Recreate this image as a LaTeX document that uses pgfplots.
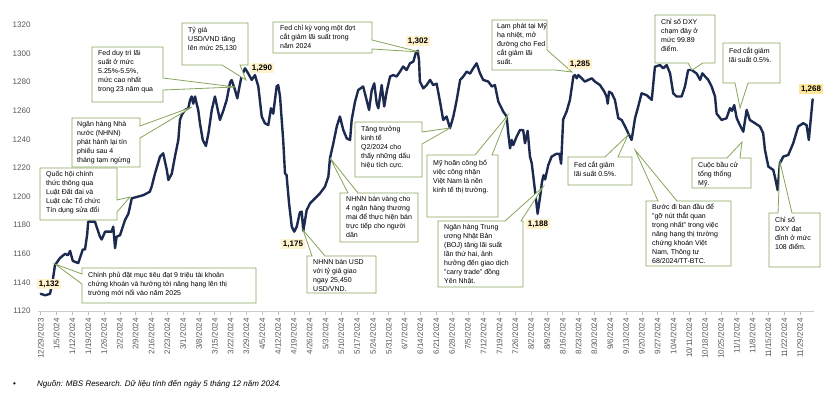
\documentclass[border=0pt]{standalone}
\usepackage{pgfplots}
\pgfplotsset{compat=1.18}
\usepackage{fontspec}
\setmainfont{Liberation Sans}
\definecolor{navy}{HTML}{1B2A4E}
\definecolor{cgreen}{HTML}{86A55A}
\definecolor{lblfill}{HTML}{FFF2CC}
\definecolor{lblfill2}{HTML}{FFE699}
\definecolor{tickgray}{HTML}{595959}
\newcommand{\ct}{\fontsize{7}{9}\selectfont}
\begin{document}
\begin{tikzpicture}[x=1pt,y=1pt]
\useasboundingbox (0,0) rectangle (840,394);
\begin{axis}[
  at={(38pt,83pt)}, anchor=south west, scale only axis,
  width=776pt, height=286pt,
  xmin=-1.2, xmax=342.2, ymin=1120, ymax=1320,
  axis x line*=bottom, axis y line*=left,
  y axis line style={draw=none},
  x axis line style={draw=gray!40, line width=0.8pt},
  ytick={1120,1140,...,1320},
  ytick style={draw=none},
  /pgf/number format/assume math mode=true,
  /pgf/number format/set thousands separator={},
  yticklabel style={font=\fontsize{8}{9}\selectfont, text=tickgray},
  xtick={0,7,...,336},
  xticklabels={12/29/2023,1/5/2024,1/12/2024,1/19/2024,1/26/2024,2/2/2024,2/9/2024,2/16/2024,2/23/2024,3/1/2024,3/8/2024,3/15/2024,3/22/2024,3/29/2024,4/5/2024,4/12/2024,4/19/2024,4/26/2024,5/3/2024,5/10/2024,5/17/2024,5/24/2024,5/31/2024,6/7/2024,6/14/2024,6/21/2024,6/28/2024,7/5/2024,7/12/2024,7/19/2024,7/26/2024,8/2/2024,8/9/2024,8/16/2024,8/23/2024,8/30/2024,9/6/2024,9/13/2024,9/20/2024,9/27/2024,10/4/2024,10/11/2024,10/18/2024,10/25/2024,11/1/2024,11/8/2024,11/15/2024,11/22/2024,11/29/2024},
  xtick style={draw=gray!50, line width=0.6pt},
  tick align=outside, major tick length=4pt,
  x tick label style={rotate=90, anchor=east, font=\fontsize{8}{9}\selectfont, text=tickgray},
  clip=false,
]
\addplot[navy, line width=2.4pt, line join=round, line cap=round] coordinates {
(0,1132) (2,1131) (4.1,1132) (5.2,1140) (6.3,1152) (8.5,1157) (10.8,1160) (12,1159) (13.0,1162) (14.2,1155) (16.6,1153.5) (18.0,1160) (18.6,1163) (19.6,1163) (20.6,1174) (21.0,1182.5) (24.0,1182.5) (26.2,1172) (27.0,1170) (28.5,1175.5) (31.4,1175.5) (32.1,1179) (32.9,1164) (33.6,1172) (35.1,1173) (37.3,1183.6) (38.8,1188) (40.3,1198.8) (45.4,1201) (48.3,1203.4) (49.1,1207) (50.6,1216.3) (52.8,1228) (54.2,1230.3) (55.8,1218.6) (56.5,1211.6) (58.0,1216) (59.4,1228) (60.9,1239.6) (61.6,1253.6) (62.4,1257) (63.8,1260.6) (65.3,1261.8) (66.1,1267.6) (66.8,1270) (67.5,1265) (68.3,1270) (69.0,1265) (69.7,1260.6) (70.5,1251) (71.7,1239.6) (73.1,1235.4) (74.2,1244) (75.7,1260.6) (77.1,1270) (79.3,1253.6) (80.8,1260) (82.3,1267.6) (83.8,1280) (84.5,1281.5) (86.0,1274.5) (87.0,1268.7) (88.2,1279) (88.9,1284) (90.4,1289.7) (91.4,1287.3) (93.4,1281.6) (94.8,1285) (96.3,1277) (97.8,1256) (99.2,1251.3) (100.7,1250) (101.9,1261.8) (102.9,1258) (104.4,1277) (105.1,1278) (105.9,1270) (107.3,1239.6) (108.1,1216.3) (108.8,1215) (109.9,1195.3) (111.1,1179) (112.2,1175.5) (113.3,1179) (114.7,1189) (115.5,1189.5) (116.2,1176) (117.7,1190.6) (119.2,1195.3) (121.4,1198.8) (123.6,1202.3) (125.8,1207) (127.3,1214) (128.0,1226.8) (129.5,1237.3) (131.0,1249) (132.4,1256) (133.9,1246.6) (135.4,1240.8) (136.9,1239.6) (137.6,1253.6) (139.1,1266.4) (140.5,1274.5) (142.7,1277) (144.2,1267.6) (145.3,1260.6) (146.5,1274.5) (147.6,1279.2) (148.7,1265) (149.4,1261.8) (150.9,1278) (152.0,1263) (153.1,1273.4) (154.6,1284) (156.0,1285) (157.5,1284) (159.0,1287.4) (160.4,1291) (161.9,1288.5) (163.4,1293.2) (164.9,1294.4) (165.9,1300) (166.8,1302) (167.4,1295.5) (167.8,1280.4) (169.3,1275.7) (170.8,1278) (172.3,1281.6) (173.7,1278) (175.2,1279) (176.7,1266.4) (178.1,1253.6) (179.6,1256) (181.1,1247.8) (182.6,1256) (184.1,1267.6) (185.6,1281.6) (187.0,1284) (188.5,1287.4) (190.0,1286) (191.4,1289.7) (192.9,1293.2) (194.4,1286.2) (195.8,1281.6) (198.1,1280.4) (199.6,1277) (201.0,1278) (202.5,1266.4) (204.7,1259.4) (206.2,1256) (206.9,1244.3) (207.7,1233.8) (208.4,1239.6) (209.1,1236) (210.6,1241.9) (212.1,1246.6) (213.5,1246.6) (214.3,1237.3) (215.5,1246) (216.5,1228) (217.3,1223.3) (218.7,1204.6) (219.9,1188) (221.0,1200) (221.8,1210) (222.5,1215) (223.2,1212) (224.6,1222) (226.1,1228) (228.3,1230) (229.5,1230) (230.3,1223) (231.2,1254) (232.7,1259.4) (234.2,1267.6) (235.7,1284) (236.4,1285) (237.2,1282.7) (237.9,1285) (239.4,1282.7) (240.8,1280.4) (242.3,1281.6) (243.8,1282.7) (245.3,1280.4) (247.5,1278) (249.4,1273.4) (250.4,1270) (250.9,1265) (251.5,1273.4) (252.7,1272.2) (254.1,1267.6) (255.6,1254.8) (257.1,1253.6) (258.6,1249) (260.0,1244.3) (261.5,1239.6) (263.0,1254.8) (264.4,1262.9) (265.9,1272.2) (268.1,1271) (270.4,1267.6) (271.8,1290.8) (274.0,1292) (275.5,1289.7) (277.0,1292) (278.5,1286.2) (279.9,1272.2) (281.4,1270) (283.6,1270) (285.1,1277) (286.5,1288.5) (288.1,1288.5) (290.3,1286) (291.8,1281.6) (292.8,1286.2) (294.0,1284) (295.4,1281.6) (296.9,1277) (298.4,1270) (299.1,1258) (301.3,1253.6) (303.5,1254.8) (305.0,1261.8) (305.9,1260) (306.9,1264) (308.0,1254.8) (309.4,1250) (310.9,1245.4) (312.4,1260.6) (313.8,1253.6) (316.1,1251.3) (318.3,1249) (319.7,1244.3) (320.5,1232.6) (322.0,1221) (324.2,1218.6) (325.2,1211.6) (326.1,1204.6) (327.1,1223.3) (328.6,1228) (330.8,1229.1) (333.0,1237.3) (335.2,1249) (337.4,1251.3) (338.9,1250) (339.9,1239.6) (341.6,1268)
};
\end{axis}
\begin{scope}[shift={(0,394)}, yscale=-1]
\tikzset{co/.style={fill=white, draw=cgreen, line width=0.8pt, line join=miter}, tx/.style={anchor=north west, align=left, font=\ct, inner sep=0pt}, vl/.style={fill=lblfill, font=\bfseries\fontsize{8}{9}\selectfont, inner sep=2pt}}
% C1
\filldraw[co] (92,47)--(163,47)--(163,78)--(235,87)--(163,90)--(163,102)--(92,102)--cycle;
\node[tx] at (98,50) {Fed duy trì lãi\\suất ở mức\\5.25\%-5.5\%,\\mức cao nhất\\trong 23 năm qua};
% C2
\filldraw[co] (182,23)--(248,23)--(248,65)--(240,65)--(246,80)--(222,65)--(182,65)--cycle;
\node[tx] at (188,27) {Tỷ giá\\USD/VND tăng\\lên mức 25,130};
% C3
\filldraw[co] (72,118)--(140,118)--(140,126)--(192,107)--(140,138)--(140,167)--(72,167)--cycle;
\node[tx] at (77,121) {Ngân hàng Nhà\\nước (NHNN)\\phát hành lại tín\\phiếu sau 4\\tháng tạm ngừng};
% C4
\filldraw[co] (40,168)--(117,168)--(117,200)--(130,197)--(117,212)--(117,220)--(40,220)--cycle;
\node[tx] at (46,171) {Quốc hội chính\\thức thông qua\\Luật Đất đai và\\Luật các Tổ chức\\Tín dụng sửa đổi};
% C5
\filldraw[co] (82,268)--(256,268)--(256,303)--(82,303)--(82,284)--(55,264)--(82,274)--cycle;
\node[tx] at (88,272) {Chính phủ đặt mục tiêu đạt 9 triệu tài khoản\\chứng khoán và hướng tới nâng hạng lên thị\\trường mới nổi vào năm 2025};
% C6
\filldraw[co] (273,22)--(372,22)--(372,40)--(420,52)--(372,49)--(372,53)--(273,53)--cycle;
\node[tx] at (280,25) {Fed chỉ kỳ vọng một đợt\\cắt giảm lãi suất trong\\năm 2024};
% C7
\filldraw[co] (355,122)--(422,122)--(422,132)--(450,128)--(422,144)--(422,177)--(355,177)--cycle;
\node[tx] at (361,126) {Tăng trưởng\\kinh tế\\Q2/2024 cho\\thấy những dấu\\hiệu tích cực.};
% C8
\filldraw[co] (340,193)--(348,193)--(330,158)--(358,193)--(418,193)--(418,242)--(340,242)--cycle;
\node[tx] at (346,196) {NHNN bán vàng cho\\4 ngân hàng thương\\mại để thực hiện bán\\trực tiếp cho người\\dân};
% C9
\filldraw[co] (307,256)--(312,256)--(303,230)--(325,256)--(376,256)--(376,293)--(307,293)--cycle;
\node[tx] at (313,259) {NHNN bán USD\\với tỷ giá giao\\ngay 25,450\\USD/VND.};
% C10
\filldraw[co] (427,155)--(475,155)--(508,115)--(492,155)--(498,155)--(498,217)--(427,217)--cycle;
\node[tx] at (433,160) {Mỹ hoãn công bố\\việc công nhận\\Việt Nam là nền\\kinh tế thị trường.};
% C11
\filldraw[co] (492,20)--(547,20)--(547,50)--(572,72)--(555,70)--(492,70)--cycle;
\node[tx] at (497,23) {Lạm phát tại Mỹ\\hạ nhiệt, mở\\đường cho Fed\\cắt giảm lãi\\suất.};
% C12
\filldraw[co] (438,221)--(505,221)--(543,187)--(521,221)--(523,221)--(523,287)--(438,287)--cycle;
\node[tx] at (444,224) {Ngân hàng Trung\\ương Nhật Bản\\(BOJ) tăng lãi suất\\lần thứ hai, ảnh\\hưởng đến giao dịch\\"carry trade" đồng\\Yên Nhật.};
% C13
\filldraw[co] (568,157)--(605,157)--(628,135)--(618,157)--(632,157)--(632,185)--(568,185)--cycle;
\node[tx] at (574,161) {Fed cắt giảm\\lãi suất 0.5\%.};
% C14
\filldraw[co] (646,201)--(658,201)--(635,150)--(677,201)--(731,201)--(731,266)--(646,266)--cycle;
\node[tx] at (652,204) {Bước đi ban đầu để\\"gỡ nút thắt quan\\trọng nhất" trong việc\\nâng hạng thị trường\\chứng khoán Việt\\Nam, Thông tư\\68/2024/TT-BTC.};
% C15
\filldraw[co] (655,15)--(715,15)--(715,63)--(703,63)--(692,70)--(688,63)--(655,63)--cycle;
\node[tx] at (661,19) {Chỉ số DXY\\chạm đáy ở\\mức 99.89\\điểm.};
% C16
\filldraw[co] (723,43)--(780,43)--(780,83)--(748,83)--(740,108)--(735,83)--(723,83)--cycle;
\node[tx] at (729,47) {Fed cắt giảm\\lãi suất 0.5\%.};
% C17
\filldraw[co] (692,158)--(727,158)--(742,142)--(740,158)--(751,158)--(751,188)--(692,188)--cycle;
\node[tx] at (698,162) {Cuộc bầu cử\\tổng thống\\Mỹ.};
% C18
\filldraw[co] (769,213)--(778,213)--(780,162)--(792,213)--(820,213)--(820,267)--(769,267)--cycle;
\node[tx] at (775,217) {Chỉ số\\DXY đạt\\đỉnh ở mức\\108 điểm.};
% value labels
\node[vl] at (49,284) {1,132};
\node[vl] at (262,68) {1,290};
\node[vl] at (418,41) {1,302};
\node[vl] at (293,244) {1,175};
\node[vl] at (580,64) {1,285};
\node[vl] at (538,224) {1,188};
\node[vl, fill=lblfill2] at (811,89) {1,268};
% footnote
\node[anchor=base west, font=\fontsize{8}{9}\selectfont, inner sep=0] at (13,386) {•};
\node[anchor=base west, font=\itshape\fontsize{8}{9}\selectfont, inner sep=0] at (37,386) {Nguồn: MBS Research. Dữ liệu tính đến ngày 5 tháng 12 năm 2024.};
\end{scope}
\end{tikzpicture}
\end{document}
